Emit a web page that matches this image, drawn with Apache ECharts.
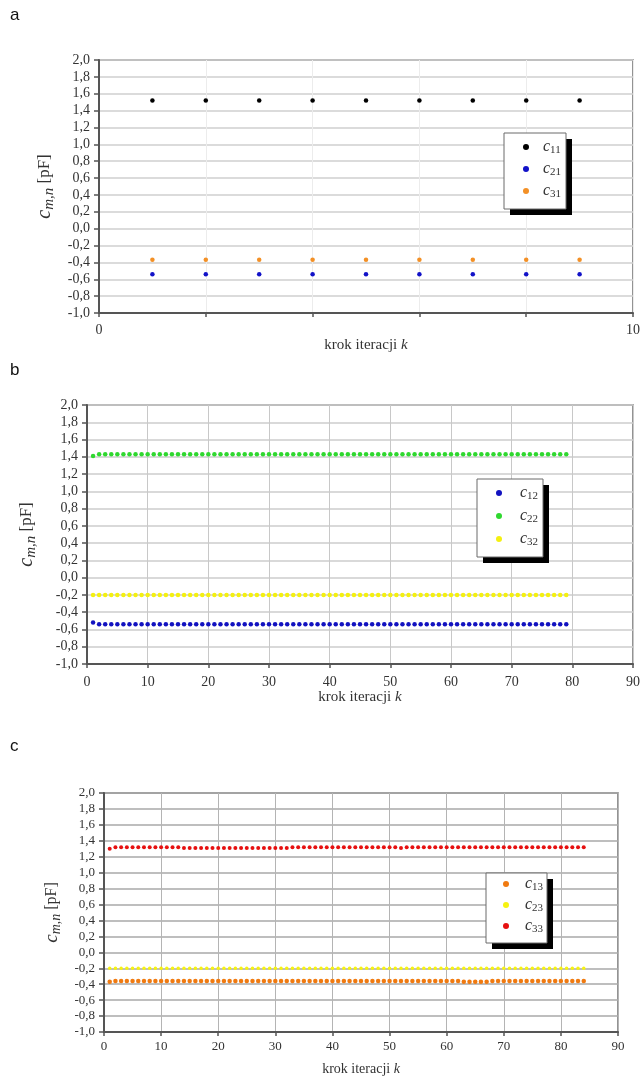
<!DOCTYPE html>
<html>
<head>
<meta charset="utf-8">
<script src="https://cdn.jsdelivr.net/npm/echarts@6/dist/echarts.min.js"></script>
<style>
html,body{margin:0;padding:0;background:#fff;}
#chart{width:643px;height:1077px;}
</style>
</head>
<body>
<div id="chart"></div>
<script>
// ---- Panel a (k = 1..9) ----
const c11 = [1.52, 1.52, 1.52, 1.52, 1.52, 1.52, 1.52, 1.52, 1.52];
const c21 = [-0.54, -0.54, -0.54, -0.54, -0.54, -0.54, -0.54, -0.54, -0.54];
const c31 = [-0.37, -0.37, -0.37, -0.37, -0.37, -0.37, -0.37, -0.37, -0.37];

// ---- Panel b (k = 1..79) ----
const c12 = [-0.52,
  -0.54, -0.54, -0.54, -0.54, -0.54, -0.54, -0.54, -0.54, -0.54, -0.54,
  -0.54, -0.54, -0.54, -0.54, -0.54, -0.54, -0.54, -0.54, -0.54, -0.54,
  -0.54, -0.54, -0.54, -0.54, -0.54, -0.54, -0.54, -0.54, -0.54, -0.54,
  -0.54, -0.54, -0.54, -0.54, -0.54, -0.54, -0.54, -0.54, -0.54, -0.54,
  -0.54, -0.54, -0.54, -0.54, -0.54, -0.54, -0.54, -0.54, -0.54, -0.54,
  -0.54, -0.54, -0.54, -0.54, -0.54, -0.54, -0.54, -0.54, -0.54, -0.54,
  -0.54, -0.54, -0.54, -0.54, -0.54, -0.54, -0.54, -0.54, -0.54, -0.54,
  -0.54, -0.54, -0.54, -0.54, -0.54, -0.54, -0.54, -0.54];
const c22 = [1.41,
  1.43, 1.43, 1.43, 1.43, 1.43, 1.43, 1.43, 1.43, 1.43, 1.43,
  1.43, 1.43, 1.43, 1.43, 1.43, 1.43, 1.43, 1.43, 1.43, 1.43,
  1.43, 1.43, 1.43, 1.43, 1.43, 1.43, 1.43, 1.43, 1.43, 1.43,
  1.43, 1.43, 1.43, 1.43, 1.43, 1.43, 1.43, 1.43, 1.43, 1.43,
  1.43, 1.43, 1.43, 1.43, 1.43, 1.43, 1.43, 1.43, 1.43, 1.43,
  1.43, 1.43, 1.43, 1.43, 1.43, 1.43, 1.43, 1.43, 1.43, 1.43,
  1.43, 1.43, 1.43, 1.43, 1.43, 1.43, 1.43, 1.43, 1.43, 1.43,
  1.43, 1.43, 1.43, 1.43, 1.43, 1.43, 1.43, 1.43];
const c32 = [-0.20,
  -0.20, -0.20, -0.20, -0.20, -0.20, -0.20, -0.20, -0.20, -0.20, -0.20,
  -0.20, -0.20, -0.20, -0.20, -0.20, -0.20, -0.20, -0.20, -0.20, -0.20,
  -0.20, -0.20, -0.20, -0.20, -0.20, -0.20, -0.20, -0.20, -0.20, -0.20,
  -0.20, -0.20, -0.20, -0.20, -0.20, -0.20, -0.20, -0.20, -0.20, -0.20,
  -0.20, -0.20, -0.20, -0.20, -0.20, -0.20, -0.20, -0.20, -0.20, -0.20,
  -0.20, -0.20, -0.20, -0.20, -0.20, -0.20, -0.20, -0.20, -0.20, -0.20,
  -0.20, -0.20, -0.20, -0.20, -0.20, -0.20, -0.20, -0.20, -0.20, -0.20,
  -0.20, -0.20, -0.20, -0.20, -0.20, -0.20, -0.20, -0.20];

// ---- Panel c (k = 1..84) ----
const c13 = [-0.37,
  -0.36, -0.36, -0.36, -0.36, -0.36, -0.36, -0.36, -0.36, -0.36, -0.36,
  -0.36, -0.36, -0.36, -0.36, -0.36, -0.36, -0.36, -0.36, -0.36, -0.36,
  -0.36, -0.36, -0.36, -0.36, -0.36, -0.36, -0.36, -0.36, -0.36, -0.36,
  -0.36, -0.36, -0.36, -0.36, -0.36, -0.36, -0.36, -0.36, -0.36, -0.36,
  -0.36, -0.36, -0.36, -0.36, -0.36, -0.36, -0.36, -0.36, -0.36, -0.36,
  -0.36, -0.36, -0.36, -0.36, -0.36, -0.36, -0.36, -0.36, -0.36, -0.36,
  -0.36, -0.37, -0.37, -0.37, -0.37, -0.37, -0.36, -0.36, -0.36, -0.36,
  -0.36, -0.36, -0.36, -0.36, -0.36, -0.36, -0.36, -0.36, -0.36, -0.36,
  -0.36, -0.36, -0.36];
const c23 = [-0.20,
  -0.20, -0.20, -0.20, -0.20, -0.20, -0.20, -0.20, -0.20, -0.20, -0.20,
  -0.20, -0.20, -0.20, -0.20, -0.20, -0.20, -0.20, -0.20, -0.20, -0.20,
  -0.20, -0.20, -0.20, -0.20, -0.20, -0.20, -0.20, -0.20, -0.20, -0.20,
  -0.20, -0.20, -0.20, -0.20, -0.20, -0.20, -0.20, -0.20, -0.20, -0.20,
  -0.20, -0.20, -0.20, -0.20, -0.20, -0.20, -0.20, -0.20, -0.20, -0.20,
  -0.20, -0.20, -0.20, -0.20, -0.20, -0.20, -0.20, -0.20, -0.20, -0.20,
  -0.20, -0.20, -0.20, -0.20, -0.20, -0.20, -0.20, -0.20, -0.20, -0.20,
  -0.20, -0.20, -0.20, -0.20, -0.20, -0.20, -0.20, -0.20, -0.20, -0.20,
  -0.20, -0.20, -0.20];
const c33 = [1.30,
  1.32, 1.32, 1.32, 1.32, 1.32, 1.32, 1.32, 1.32, 1.32, 1.32,
  1.32, 1.32, 1.31, 1.31, 1.31, 1.31, 1.31, 1.31, 1.31, 1.31,
  1.31, 1.31, 1.31, 1.31, 1.31, 1.31, 1.31, 1.31, 1.31, 1.31,
  1.31, 1.32, 1.32, 1.32, 1.32, 1.32, 1.32, 1.32, 1.32, 1.32,
  1.32, 1.32, 1.32, 1.32, 1.32, 1.32, 1.32, 1.32, 1.32, 1.32,
  1.31, 1.32, 1.32, 1.32, 1.32, 1.32, 1.32, 1.32, 1.32, 1.32,
  1.32, 1.32, 1.32, 1.32, 1.32, 1.32, 1.32, 1.32, 1.32, 1.32,
  1.32, 1.32, 1.32, 1.32, 1.32, 1.32, 1.32, 1.32, 1.32, 1.32,
  1.32, 1.32, 1.32];

const panelLetters = ['a', 'b', 'c'];
const xMaxes = [10, 90, 90];
const xIntervals = [2, 10, 10];
const xShownLabelsA = [0, 10];
const yMin = -1.0, yMax = 2.0, yInterval = 0.2;

const toPoints = arr => arr.map((v, i) => [i + 1, v]);

const SERIF = '"Liberation Serif", "DejaVu Serif", serif';
const SANS = '"Liberation Sans", Arial, sans-serif';

const grids = [
  {left: 99, top: 60, width: 534, height: 253},
  {left: 87, top: 405, width: 549, height: 259},
  {left: 104, top: 793, width: 514, height: 244}
];
grids.forEach(g => { g.show = true; g.borderColor = '#707070'; g.borderWidth = 1.5; g.backgroundColor = '#fff'; });

const yFmt = v => v.toFixed(1).replace('.', ',');

const yNameRich = fs => ({
  c: {fontFamily: SERIF, fontStyle: 'italic', fontSize: fs + 6, color: '#333'},
  m: {fontFamily: SERIF, fontStyle: 'italic', fontSize: fs + 1, color: '#333', padding: [10, 0, 0, 0]},
  u: {fontFamily: SERIF, fontSize: fs + 3, color: '#333'}
});
const xNameRich = fs => ({
  n: {fontFamily: SERIF, fontSize: fs + 1, color: '#333'},
  k: {fontFamily: SERIF, fontStyle: 'italic', fontSize: fs + 1, color: '#333'}
});

const hGridColor = ['#cfcfcf', '#cdcdcd', '#a8a8a8'];
const vGridColor = ['#ececec', '#c8c8c8', '#b4b4b4'];
const labelSize = [14, 14, 13];
const yNameGap = [38, 48, 36];
const xLabelMargin = [10, 11, 8];
const xNameGap = [12, 23, 30];

const xAxes = grids.map((g, i) => ({
  gridIndex: i, type: 'value', min: 0, max: xMaxes[i], interval: xIntervals[i],
  axisLine: {show: true, onZero: false, lineStyle: {color: '#555', width: 2}},
  axisTick: {show: true, inside: false, length: 4, lineStyle: {color: '#555', width: 1.5}},
  axisLabel: {
    color: '#333', fontFamily: SERIF, fontSize: labelSize[i], margin: xLabelMargin[i],
    formatter: i === 0 ? (v => xShownLabelsA.includes(v) ? String(v) : '') : (v => String(v))
  },
  splitLine: {show: true, lineStyle: {color: vGridColor[i], width: 1}},
  name: '{n|krok iteracji }{k|k}',
  nameLocation: 'middle', nameGap: xNameGap[i],
  nameTextStyle: {rich: xNameRich(labelSize[i])}
}));

const yAxes = grids.map((g, i) => ({
  gridIndex: i, type: 'value', min: yMin, max: yMax, interval: yInterval,
  axisLine: {show: true, onZero: false, lineStyle: {color: '#555', width: 2}},
  axisTick: {show: true, inside: false, length: 5, lineStyle: {color: '#555', width: 1.5}},
  axisLabel: {color: '#333', fontFamily: SERIF, fontSize: labelSize[i], margin: 9, formatter: yFmt},
  splitLine: {show: true, lineStyle: {color: hGridColor[i], width: 1.5}},
  name: '{c|c}{m|m,n}{u| [pF]}',
  nameLocation: 'middle', nameGap: yNameGap[i], nameRotate: 90,
  nameTextStyle: {rich: yNameRich(labelSize[i])}
}));

const seriesDefs = [
  {name: 'c11', data: c11, color: '#000000', g: 0, size: 4.5},
  {name: 'c21', data: c21, color: '#1212c8', g: 0, size: 4.5},
  {name: 'c31', data: c31, color: '#f39026', g: 0, size: 4.5},
  {name: 'c12', data: c12, color: '#1212c0', g: 1, size: 4.5},
  {name: 'c22', data: c22, color: '#2fd82f', g: 1, size: 4.5},
  {name: 'c32', data: c32, color: '#f4f010', g: 1, size: 4.5},
  {name: 'c13', data: c13, color: '#f07a10', g: 2, size: 4.5},
  {name: 'c23', data: c23, color: '#f6f210', g: 2, size: 3.5},
  {name: 'c33', data: c33, color: '#e61010', g: 2, size: 4}
];

const series = seriesDefs.map(s => ({
  name: s.name, type: 'scatter', xAxisIndex: s.g, yAxisIndex: s.g,
  data: toPoints(s.data), symbol: 'circle', symbolSize: s.size,
  itemStyle: {color: s.color, opacity: 1}, z: 3
}));

const legendRich = {
  c: {fontFamily: SERIF, fontStyle: 'italic', fontSize: 16, color: '#333'},
  s: {fontFamily: SERIF, fontSize: 11, color: '#333', padding: [7, 0, 0, 0]}
};
// legend boxes: [left, top, width, height]
const legendBoxes = [
  {box: [504, 133, 62, 76], names: ['c11', 'c21', 'c31'], padL: 19, padT: 6, textPad: 9, gap: 5},
  {box: [477, 479, 66, 78], names: ['c12', 'c22', 'c32'], padL: 19, padT: 6, textPad: 13, gap: 6},
  {box: [486, 873, 61, 70], names: ['c13', 'c23', 'c33'], padL: 17, padT: 3, textPad: 11, gap: 4}
];
const legends = legendBoxes.map(l => ({
  orient: 'vertical', left: l.box[0] + l.padL, top: l.box[1] + l.padT, data: l.names,
  icon: 'circle', itemWidth: 6, itemHeight: 6, itemGap: l.gap,
  selectedMode: false, padding: 0, z: 10,
  formatter: n => '{c|c}{s|' + n.slice(1) + '}',
  textStyle: {padding: [0, 0, 0, l.textPad], rich: legendRich}
}));
const graphics = [];
legendBoxes.forEach(l => {
  const [x, y, w, h] = l.box;
  graphics.push({type: 'rect', z: 8, shape: {x: x + 6, y: y + 6, width: w, height: h}, style: {fill: '#000'}});
  graphics.push({type: 'rect', z: 9, shape: {x: x, y: y, width: w, height: h}, style: {fill: '#fff', stroke: '#6a6a6a', lineWidth: 1}});
});

const titles = panelLetters.map((t, i) => ({
  text: t, left: 10, top: [7, 362, 738][i], padding: 0,
  textStyle: {fontFamily: SANS, fontSize: 17, fontWeight: 'normal', color: '#111'}
}));

const chart = echarts.init(document.getElementById('chart'), null, {renderer: 'canvas'});
chart.setOption({
  animation: false,
  backgroundColor: '#fff',
  title: titles,
  grid: grids,
  xAxis: xAxes,
  yAxis: yAxes,
  legend: legends,
  graphic: graphics,
  series: series
});
</script>
</body>
</html>
